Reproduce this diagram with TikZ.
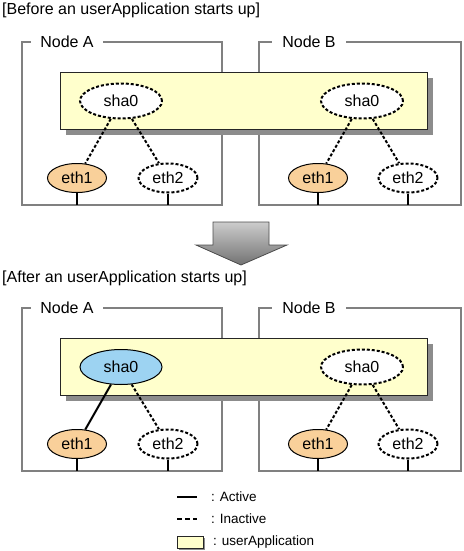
\documentclass[tikz,border=0pt]{standalone}
\usepackage{fontspec}
\setmainfont{Liberation Sans}
\usetikzlibrary{shapes.geometric}
\definecolor{appyellow}{HTML}{FFFFCC}
\definecolor{ethorange}{HTML}{F9D09A}
\definecolor{shablue}{HTML}{9DD3F2}
\definecolor{boxgray}{HTML}{808080}
\definecolor{shadowgray}{HTML}{8C8C8C}
\begin{document}
\begin{tikzpicture}[x=1pt,y=-1pt,
  txt/.style={font=\fontsize{16}{18}\selectfont},
  legtxt/.style={font=\fontsize{13.5}{16}\selectfont, anchor=west, inner sep=0pt},
  title/.style={txt, anchor=west, inner sep=0pt},
  nodebox/.style={draw=boxgray, line width=1.5pt},
  boxlabel/.style={txt, fill=white, inner ysep=2pt, inner xsep=9pt},
  appbox/.style={draw=black!85, line width=1pt, fill=appyellow},
  appshadow/.style={fill=shadowgray},
  inactbd/.style={draw=black, line width=2pt, dash pattern=on 3pt off 2pt},
  sha/.style={ellipse, minimum width=82pt, minimum height=35pt, inner sep=0pt, txt},
  eth/.style={ellipse, minimum width=59pt, minimum height=29pt, inner sep=0pt, txt},
  ethon/.style={eth, draw=black, line width=1pt, fill=ethorange},
  ethoff/.style={eth, inactbd, fill=white},
  shaoff/.style={sha, inactbd, fill=white},
  shaon/.style={sha, draw=black, line width=1pt, fill=shablue},
  inactline/.style={line width=2pt, dash pattern=on 3pt off 2pt},
  actline/.style={line width=2pt},
  wire/.style={line width=2pt},
]
\useasboundingbox (0,0) rectangle (463,551);

% ---------- top section ----------
\node[title] (t1) at (2,10) {[Before an userApplication starts up]};
\draw[nodebox] (22,42) rectangle (222,205);
\draw[nodebox] (259,42) rectangle (461,205);
\node[boxlabel] (naA) at (67,42) {Node A};
\node[boxlabel, inner xsep=10pt] (naB) at (309,42) {Node B};
\fill[appshadow] (66,78) rectangle (433,135);
\draw[appbox] (60,72) rectangle (427,129);
\node[shaoff] (sA1) at (121,101) {sha0};
\node[shaoff] (sB1) at (362,101) {sha0};
\node[ethon] (e1A1) at (77,178) {eth1};
\node[ethoff] (e2A1) at (168,178) {eth2};
\node[ethon] (e1B1) at (318,178) {eth1};
\node[ethoff] (e2B1) at (408,178) {eth2};
\draw[inactline] (sA1) -- (e1A1);
\draw[inactline] (sA1) -- (e2A1);
\draw[inactline] (sB1) -- (e1B1);
\draw[inactline] (sB1) -- (e2B1);
\coordinate (bot1) at (0,205);
\foreach \n in {e1A1,e2A1,e1B1,e2B1}{\draw[wire] (\n.south) -- (\n.south |- bot1);}

% ---------- arrow ----------
\shade[top color=white!80!black, bottom color=black!55, draw=black!70, line width=0.8pt]
  (213,222) -- (269,222) -- (269,245) -- (287,245) -- (241,265) -- (196,245) -- (213,245) -- cycle;

% ---------- bottom section ----------
\node[title] (t2) at (2,278) {[After an userApplication starts up]};
\draw[nodebox] (22,308) rectangle (222,471);
\draw[nodebox] (259,308) rectangle (461,471);
\node[boxlabel] (nbA) at (67,308) {Node A};
\node[boxlabel, inner xsep=10pt] (nbB) at (309,308) {Node B};
\fill[appshadow] (66,344) rectangle (433,401);
\draw[appbox] (60,338) rectangle (427,395);
\node[shaon] (sA2) at (121,367) {sha0};
\node[shaoff] (sB2) at (362,367) {sha0};
\node[ethon] (e1A2) at (77,444) {eth1};
\node[ethoff] (e2A2) at (168,444) {eth2};
\node[ethon] (e1B2) at (318,444) {eth1};
\node[ethoff] (e2B2) at (408,444) {eth2};
\draw[actline] (sA2) -- (e1A2);
\draw[inactline] (sA2) -- (e2A2);
\draw[inactline] (sB2) -- (e1B2);
\draw[inactline] (sB2) -- (e2B2);
\coordinate (bot2) at (0,471);
\foreach \n in {e1A2,e2A2,e1B2,e2B2}{\draw[wire] (\n.south) -- (\n.south |- bot2);}

% ---------- legend ----------
\coordinate (la0) at (177,497); \coordinate (la1) at (197,497);
\draw[line width=1.5pt] (la0) -- (la1);
\node[legtxt] (lat) at (211,497) {: Active};
\coordinate (li0) at (177,519); \coordinate (li1) at (197,519);
\draw[line width=1.5pt, dash pattern=on 5pt off 3pt] (li0) -- (li1);
\node[legtxt] (lit) at (211,519) {: Inactive};
\fill[shadowgray] (179,538) rectangle (205,550);
\draw[appbox] (177,536) rectangle (203,548);
\node[legtxt] (lut) at (213,542) {: userApplication};
\end{tikzpicture}
\end{document}
